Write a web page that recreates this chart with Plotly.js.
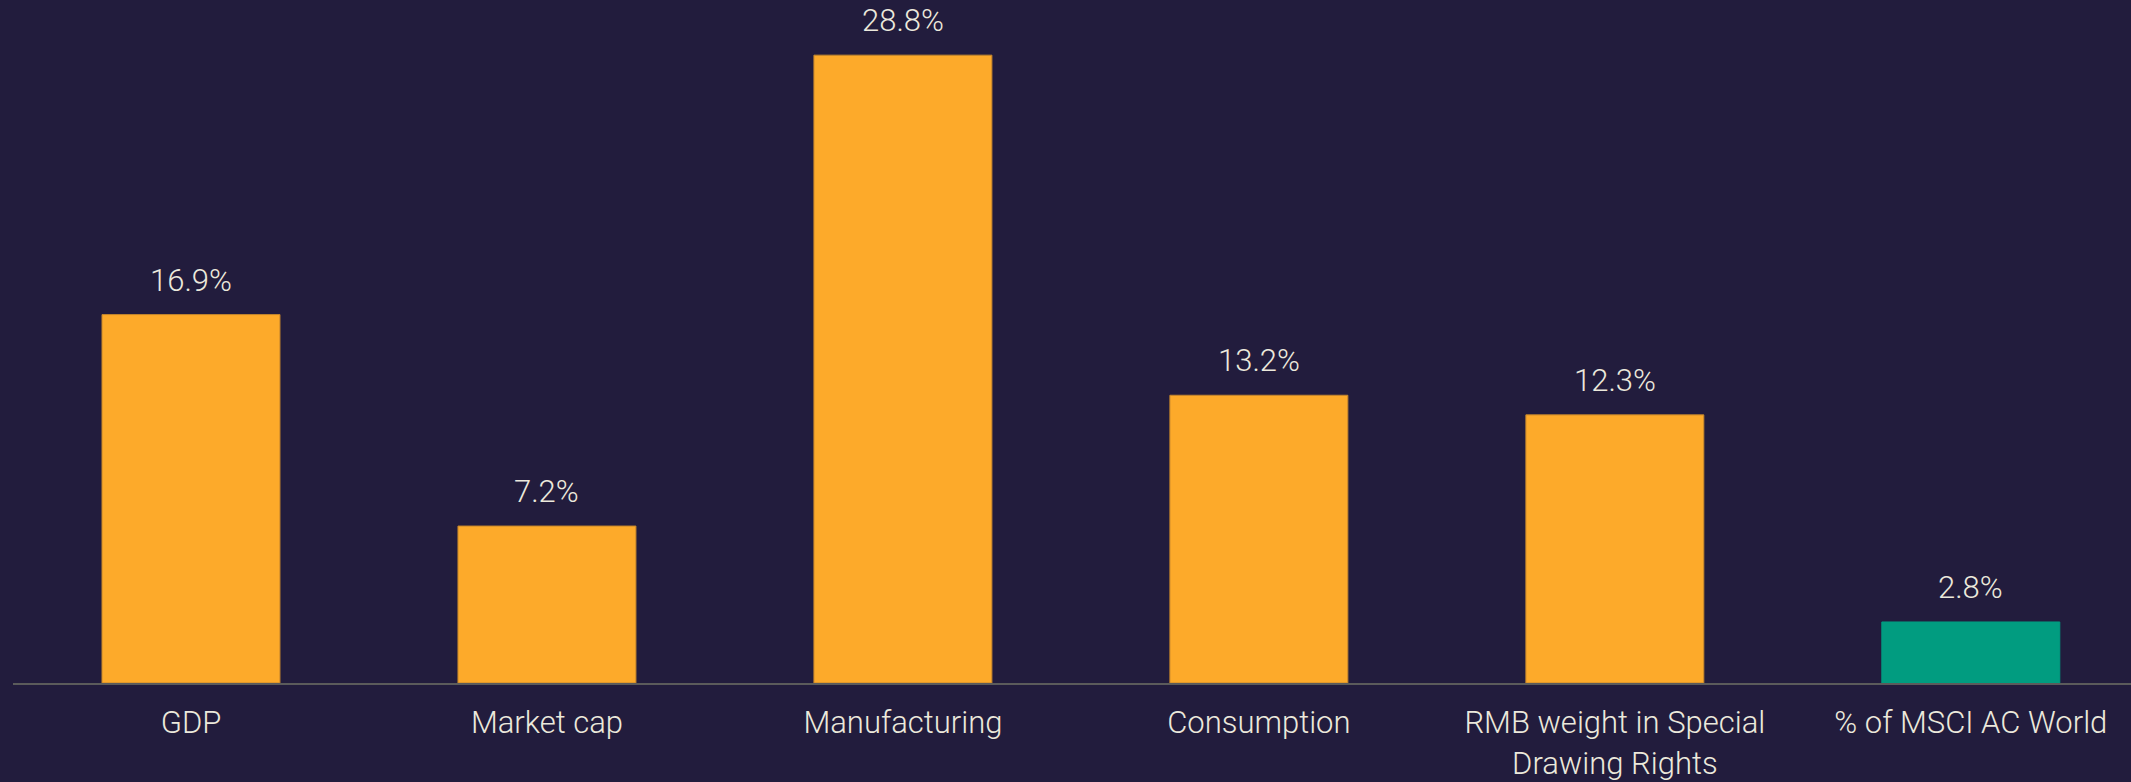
<!DOCTYPE html>
<html>
<head>
<meta charset="utf-8">
<script src="https://cdn.plot.ly/plotly-3.0.1.min.js"></script>
<style>
  html, body { margin: 0; padding: 0; background: #221c3d; }
  #chart { width: 2131px; height: 782px; }
</style>
</head>
<body>
<div id="chart"></div>
<script>
const categories = ["GDP", "Market cap", "Manufacturing", "Consumption", "RMB weight in Special<br>Drawing Rights", "% of MSCI AC World"];
const values = [16.9, 7.2, 28.8, 13.2, 12.3, 2.8];
const barColors = ["#fdaa2a", "#fdaa2a", "#fdaa2a", "#fdaa2a", "#fdaa2a", "#019c80"];
const lineColors = ["#c4862c", "#c4862c", "#c4862c", "#c4862c", "#c4862c", "#019c80"];

const textColor = "#ece9dc";
const fontFamily = "Roboto, 'Liberation Sans', Arial, sans-serif";
const fontWeight = 300;
const fontSize = 31;

const trace = {
  type: "bar",
  x: categories,
  y: values,
  width: 0.5,
  marker: { color: barColors, line: { color: lineColors, width: 1 } },
  hoverinfo: "skip",
  textposition: "none"
};

const annotations = categories.map((c, i) => ({
  x: c,
  y: values[i],
  xref: "x",
  yref: "y",
  text: values[i].toFixed(1) + "%",
  showarrow: false,
  yanchor: "bottom",
  yshift: 14,
  font: { family: fontFamily, size: fontSize, color: textColor, weight: fontWeight }
}));

const layout = {
  width: 2131,
  height: 782,
  paper_bgcolor: "#221c3d",
  plot_bgcolor: "#221c3d",
  margin: { l: 13, r: 0, t: 0, b: 99 },
  showlegend: false,
  font: { family: fontFamily, size: fontSize, color: textColor, weight: fontWeight },
  xaxis: {
    type: "category",
    range: [-0.5, 5.45],
    showline: true,
    linecolor: "#5b5b5b",
    linewidth: 2,
    showgrid: false,
    zeroline: false,
    ticks: "",
    ticklabelstandoff: 11,
    tickfont: { family: fontFamily, size: fontSize, color: textColor, weight: fontWeight },
    automargin: false
  },
  yaxis: {
    range: [0, 31.33],
    showgrid: false,
    zeroline: false,
    showline: false,
    showticklabels: false,
    ticks: "",
    automargin: false
  },
  annotations: annotations
};

Plotly.newPlot("chart", [trace], layout, { displayModeBar: false, staticPlot: true });
</script>
</body>
</html>
